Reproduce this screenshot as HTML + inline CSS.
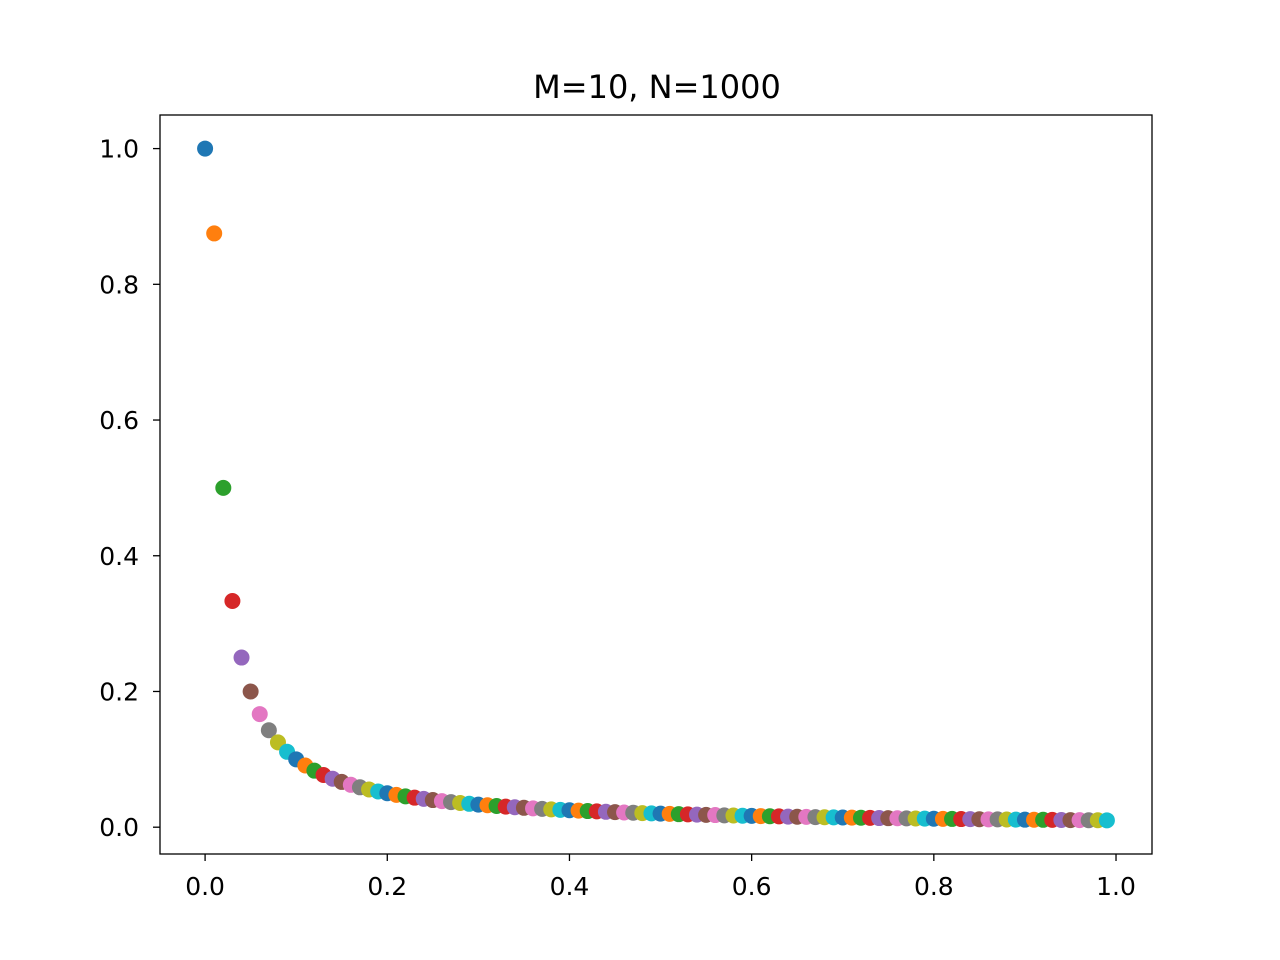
<!DOCTYPE html>
<html><head><meta charset="utf-8"><style>
html,body{margin:0;padding:0;background:#fff;}
svg{display:block;font-family:"DejaVu Sans","Liberation Sans",sans-serif;}
</style></head><body>
<svg id="chart" width="1280" height="960">
<rect x="0" y="0" width="1280" height="960" fill="#fff"/>
<text x="657" y="98" font-size="32" text-anchor="middle">M=10, N=1000</text>
<g id="marks"></g>
<g id="xticks"></g>
<g id="yticks"></g>
<rect x="160" y="115" width="992" height="739" fill="none" stroke="#000" stroke-width="1.3"/>
</svg>
<script>
const yValues = [1,0.875,0.5,0.3333,0.25,0.2,0.1667,0.1429,0.125,0.1111,0.1,0.0909,0.0833,0.0769,0.0714,0.0667,0.0625,0.0588,0.0556,0.0526,0.05,0.0476,0.0455,0.0435,0.0417,0.04,0.0385,0.037,0.0357,0.0345,0.0333,0.0323,0.0313,0.0303,0.0294,0.0286,0.0278,0.027,0.0263,0.0256,0.025,0.0244,0.0238,0.0233,0.0227,0.0222,0.0217,0.0213,0.0208,0.0204,0.02,0.0196,0.0192,0.0189,0.0185,0.0182,0.0179,0.0175,0.0172,0.0169,0.0167,0.0164,0.0161,0.0159,0.0156,0.0154,0.0152,0.0149,0.0147,0.0145,0.0143,0.0141,0.0139,0.0137,0.0135,0.0133,0.0132,0.013,0.0128,0.0127,0.0125,0.0123,0.0122,0.012,0.0119,0.0118,0.0116,0.0115,0.0114,0.0112,0.0111,0.011,0.0109,0.0108,0.0106,0.0105,0.0104,0.0103,0.0102,0.0101];
const xStep = 0.01;
const xTickLabels = ["0.0","0.2","0.4","0.6","0.8","1.0"];
const yTickLabels = ["0.0","0.2","0.4","0.6","0.8","1.0"];
const colors = ["#1f77b4","#ff7f0e","#2ca02c","#d62728","#9467bd","#8c564b","#e377c2","#7f7f7f","#bcbd22","#17becf"];
const NS = "http://www.w3.org/2000/svg";
const X0=160,X1=1152,Y0=854,Y1=115;
const xmin=-0.0495,xmax=1.0395,ymin=-0.0395,ymax=1.0495;
function xs(v){return X0+(v-xmin)/(xmax-xmin)*(X1-X0);}
function ys(v){return Y0-(v-ymin)/(ymax-ymin)*(Y0-Y1);}
const marks=document.getElementById('marks');
yValues.forEach((y,i)=>{
  const c=document.createElementNS(NS,'circle');
  c.setAttribute('cx',xs(i*xStep));c.setAttribute('cy',ys(y));c.setAttribute('r',8);
  c.setAttribute('fill',colors[i%10]);
  
  
  marks.appendChild(c);
});
const xt=document.getElementById('xticks');
xTickLabels.forEach(l=>{
  const x=xs(parseFloat(l));
  const t=document.createElementNS(NS,'line');
  t.setAttribute('x1',x);t.setAttribute('x2',x);t.setAttribute('y1',Y0);t.setAttribute('y2',Y0+7);t.setAttribute('stroke','#000');t.setAttribute('stroke-width','1.3');
  
  
  xt.appendChild(t);
  const s=document.createElementNS(NS,'text');
  s.setAttribute('x',x);s.setAttribute('y',Y0+41);s.setAttribute('font-size','25');s.setAttribute('text-anchor','middle');s.textContent=l;
  
  
  xt.appendChild(s);
});
const yt=document.getElementById('yticks');
yTickLabels.forEach(l=>{
  const y=ys(parseFloat(l));
  const t=document.createElementNS(NS,'line');
  t.setAttribute('x1',X0-7);t.setAttribute('x2',X0);t.setAttribute('y1',y);t.setAttribute('y2',y);t.setAttribute('stroke','#000');t.setAttribute('stroke-width','1.3');
  
  
  yt.appendChild(t);
  const s=document.createElementNS(NS,'text');
  s.setAttribute('x',X0-21);s.setAttribute('y',y+9);s.setAttribute('font-size','25');s.setAttribute('text-anchor','end');s.textContent=l;
  
  
  yt.appendChild(s);
});
</script>
</body></html>
